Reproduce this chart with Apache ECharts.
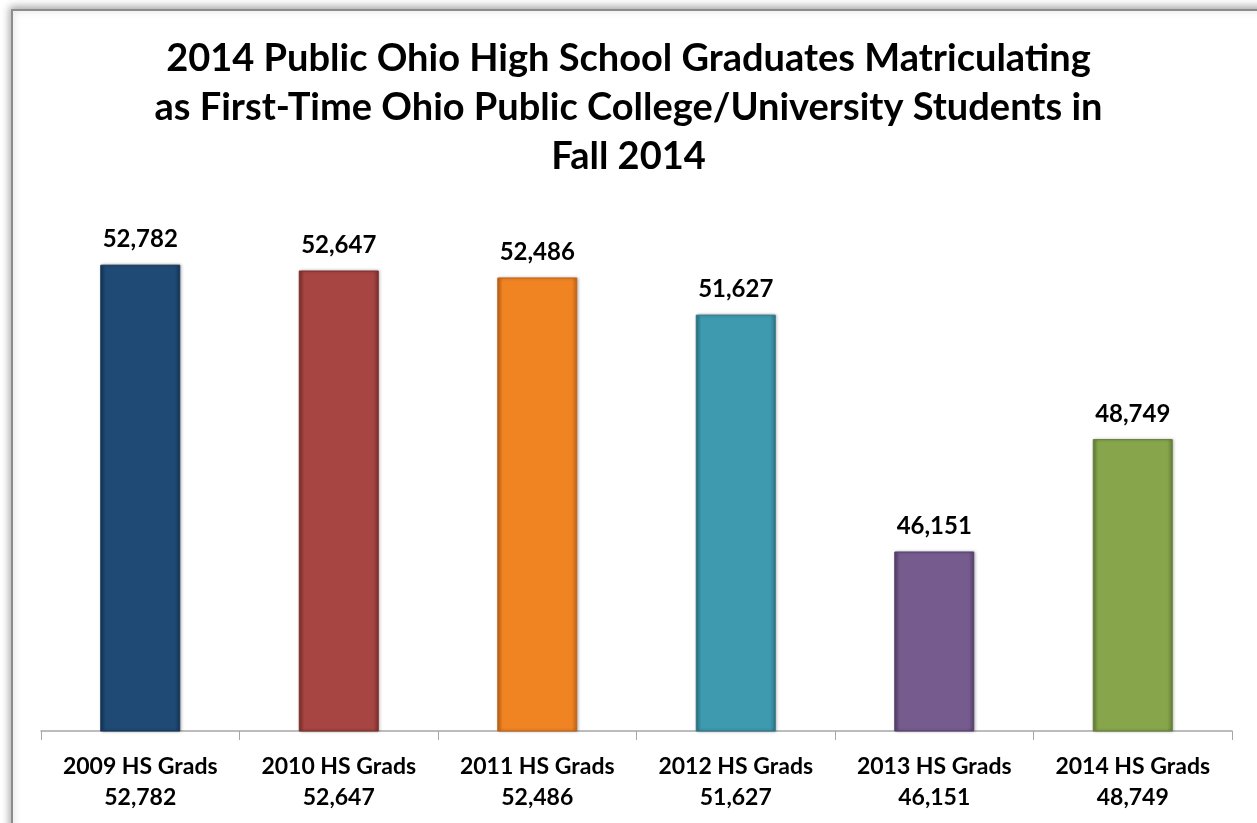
<!DOCTYPE html>
<html>
<head>
<meta charset="utf-8">
<script src="https://cdn.jsdelivr.net/npm/echarts@6/dist/echarts.min.js"></script>
<style>
html,body{margin:0;padding:0;background:#fff;}
#c{width:1257px;height:823px;}
</style>
</head>
<body>
<div id="c"></div>
<script>
const titleLines = [
  "2014 Public Ohio High School Graduates Matriculating",
  "as First-Time Ohio Public College/University Students in",
  "Fall 2014"
];
const categories = ["2009 HS Grads", "2010 HS Grads", "2011 HS Grads", "2012 HS Grads", "2013 HS Grads", "2014 HS Grads"];
const values = [52782, 52647, 52486, 51627, 46151, 48749];
const barColors = ["#1F4A75", "#A64541", "#F08322", "#3E9AAF", "#765B8F", "#87A64C"];
const edgeColors = ["#163658", "#7E302D", "#C0641A", "#2E7686", "#56406C", "#66803A"];
const FONT = "Lato";

const fmt = v => v.toLocaleString("en-US");

const chart = echarts.init(document.getElementById("c"), null, {renderer: "canvas"});
chart.setOption({
  backgroundColor: "#ffffff",
  animation: false,
  graphic: [{
    type: "rect",
    shape: {x: 12, y: 10, width: 1400, height: 1000},
    style: {fill: "#ffffff", stroke: "#8c8c8c", lineWidth: 2,
            shadowBlur: 8, shadowColor: "rgba(0,0,0,0.35)", shadowOffsetX: -1, shadowOffsetY: -2},
    z: -10, silent: true
  }],
  title: {
    text: titleLines.join("\n"),
    left: "center",
    top: 29,
    textStyle: {fontFamily: FONT, fontWeight: "bold", fontSize: 38, lineHeight: 49, color: "#000"}
  },
  grid: {left: 41, right: 25, top: 212, bottom: 92},
  xAxis: {
    type: "category",
    data: categories,
    axisLine: {lineStyle: {color: "#a6a6a6", width: 1.5}},
    axisTick: {show: true, length: 9, lineStyle: {color: "#a6a6a6"}},
    axisLabel: {
      margin: 20,
      interval: 0,
      formatter: (v, i) => v + "\n" + fmt(values[i]),
      fontFamily: FONT, fontWeight: "bold", fontSize: 23, lineHeight: 31, color: "#000"
    }
  },
  yAxis: {
    type: "value",
    min: 42000, max: 54000, interval: 2000,
    show: false,
    splitLine: {show: false}
  },
  series: [{
    type: "bar",
    barWidth: 80,
    data: values.map((v, i) => ({
      value: v,
      itemStyle: {
        color: {
          type: "linear", x: 0, y: 0, x2: 1, y2: 0,
          colorStops: [
            {offset: 0, color: edgeColors[i]},
            {offset: 0.07, color: barColors[i]},
            {offset: 0.93, color: barColors[i]},
            {offset: 1, color: edgeColors[i]}
          ]
        },
        borderColor: edgeColors[i],
        borderWidth: 1,
        shadowBlur: 3,
        shadowColor: "rgba(0,0,0,0.3)",
        shadowOffsetX: 1
      }
    })),
    label: {
      show: true,
      position: "top",
      distance: 13,
      formatter: p => fmt(p.value),
      fontFamily: FONT, fontWeight: "bold", fontSize: 24, color: "#000"
    }
  }]
});
</script>
</body>
</html>
